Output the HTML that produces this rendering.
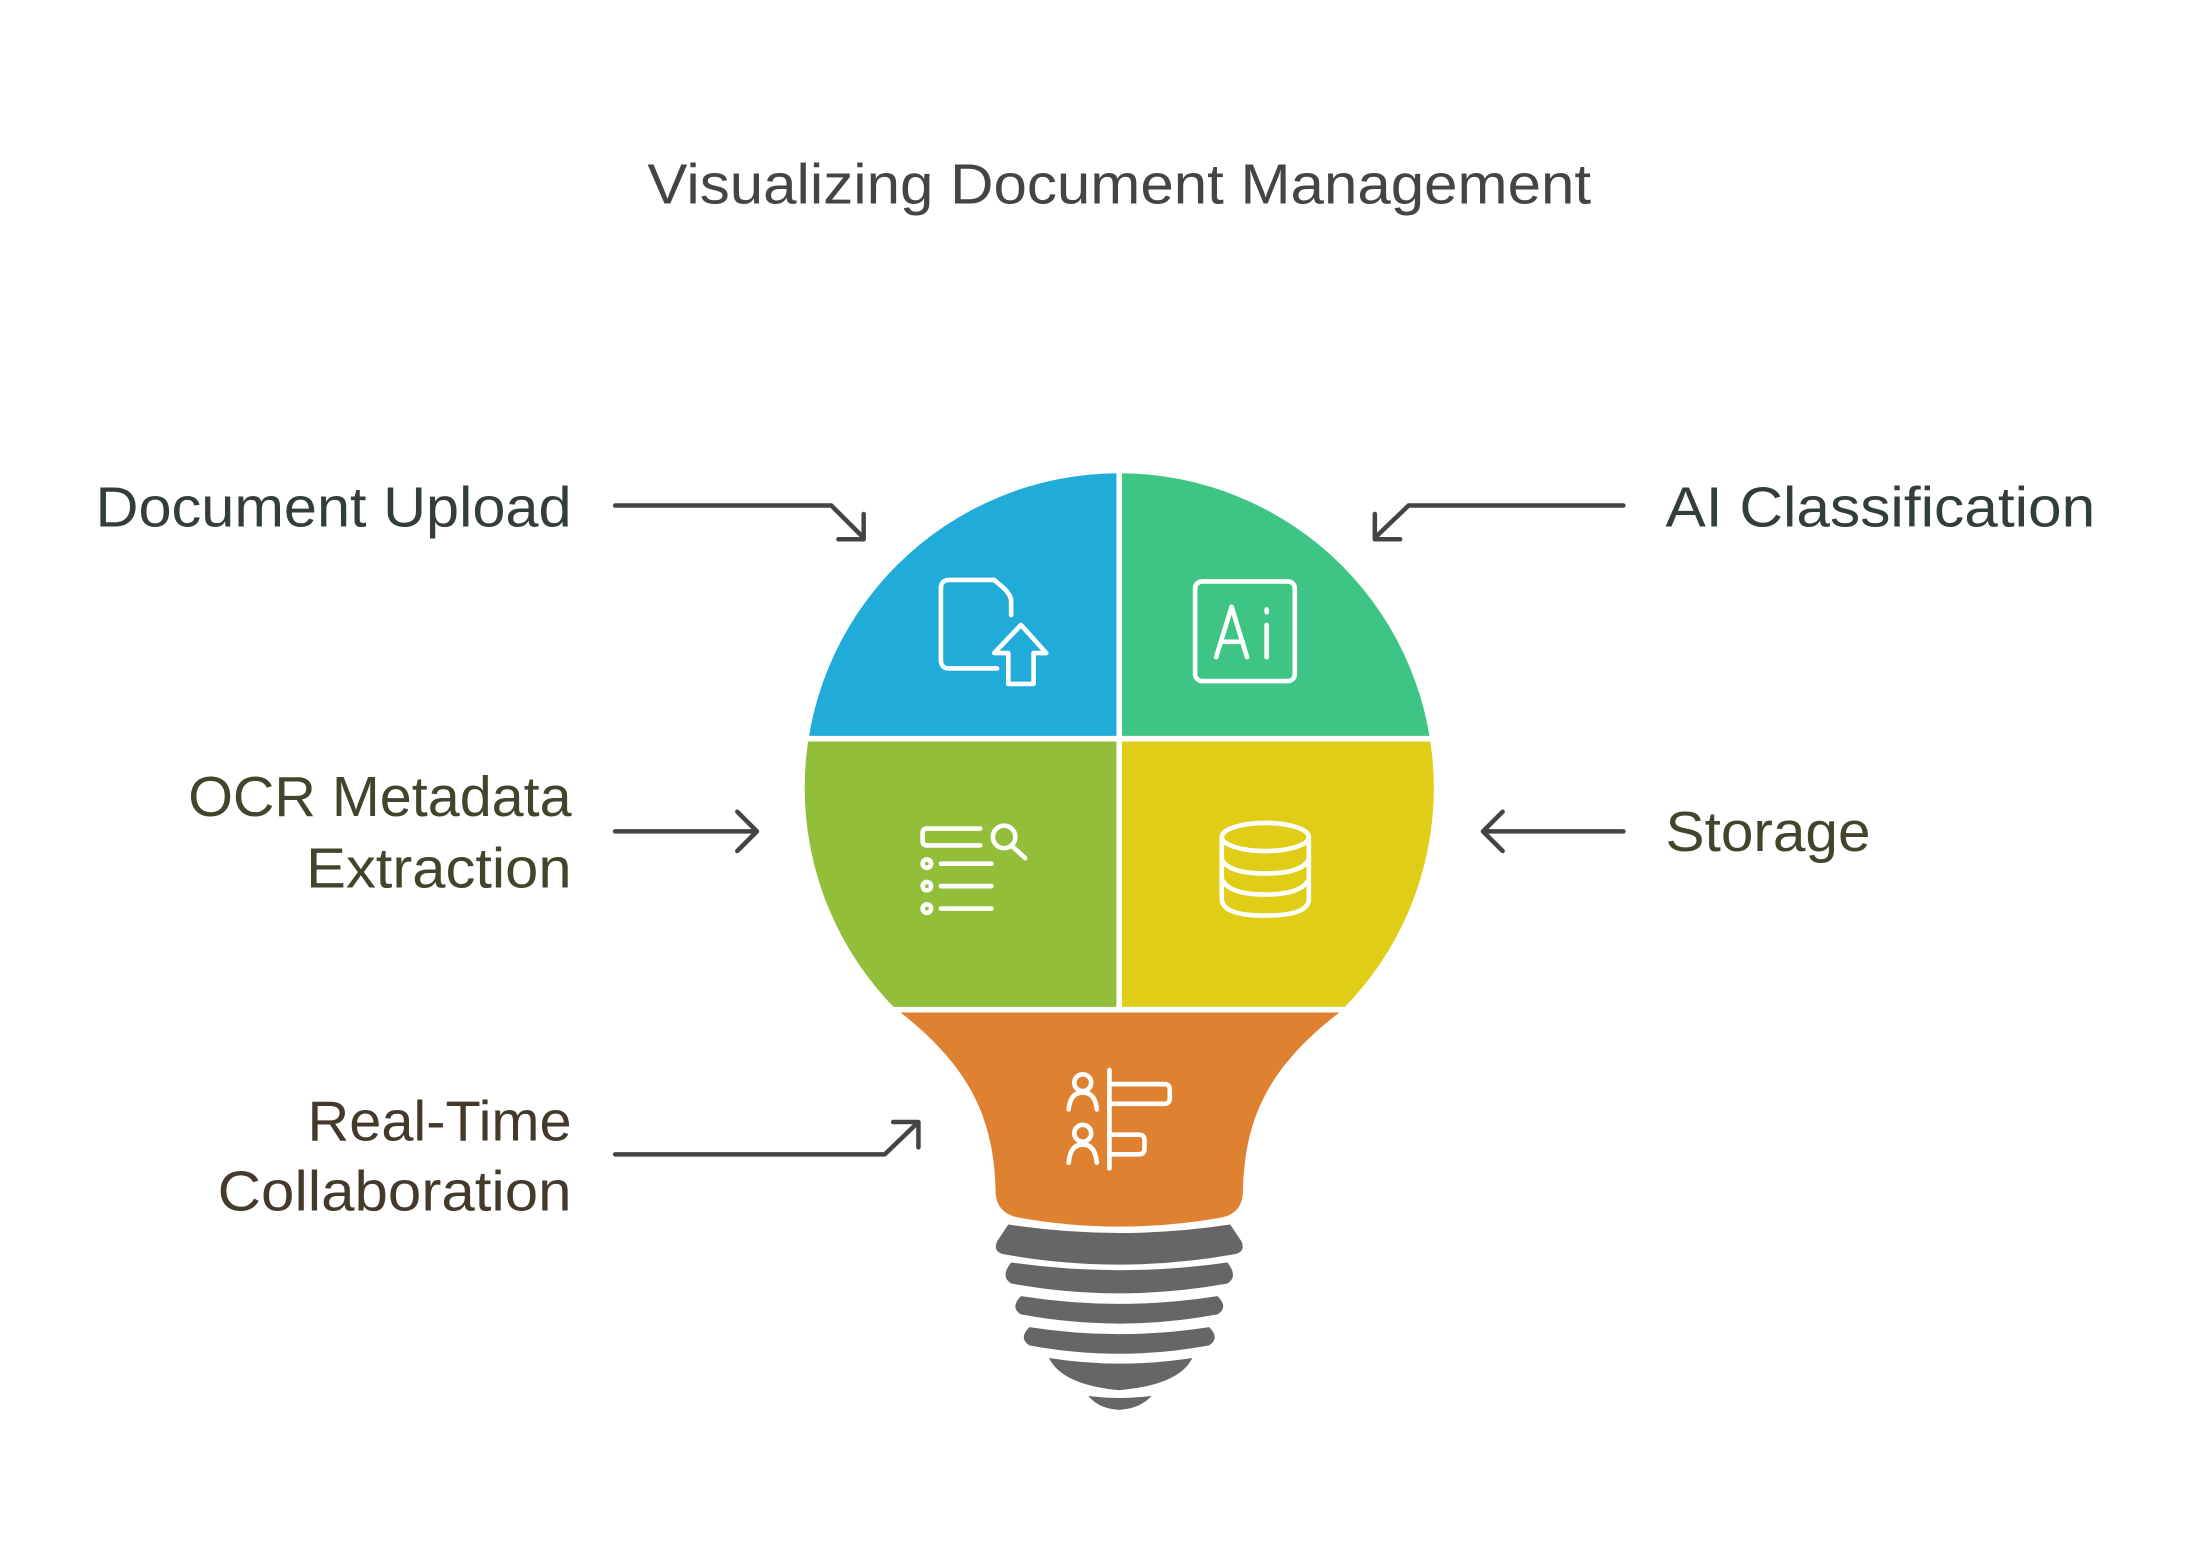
<!DOCTYPE html>
<html><head><meta charset="utf-8"><style>
html,body{margin:0;padding:0;background:#fff;}
svg{display:block;}
text{font-family:"Liberation Sans",sans-serif;}
</style></head><body>
<svg width="2202" height="1563" viewBox="0 0 1568 1113" xmlns="http://www.w3.org/2000/svg">
<rect width="1568" height="1113" fill="#fff"/>
<text x="797" y="145" text-anchor="middle" font-size="40" fill="#444" textLength="672" lengthAdjust="spacingAndGlyphs">Visualizing Document Management</text>

<defs><clipPath id="c"><circle cx="797" cy="561" r="224"/></clipPath></defs>
<g clip-path="url(#c)">
<rect x="560" y="330" width="237" height="196" fill="#20abd8"/>
<rect x="797" y="330" width="240" height="196" fill="#3ec585"/>
<rect x="560" y="526" width="237" height="192" fill="#93be3a"/>
<rect x="797" y="526" width="240" height="192" fill="#dfcd17"/>
</g>
<path d="M640,720 L955,720 C900,762 886,800 885,850 Q884,864 870,867 Q797,880 725,867 Q710,864 709,850 C708,800 694,762 640,720 Z" fill="#de8231"/>
<line x1="797" y1="330" x2="797" y2="720" stroke="#fff" stroke-width="4"/>
<line x1="560" y1="526" x2="1040" y2="526" stroke="#fff" stroke-width="4"/>
<line x1="560" y1="719" x2="1040" y2="719" stroke="#fff" stroke-width="4"/>

<g fill="#666">
<path d="M718,872 Q797,884 876,872 L884,884 Q887,891 880,893 Q797,908 714,893 Q707,891 710,884 Z"/>
<path d="M720,899 Q797,910 874,899 Q882,909 874,914 Q797,928 720,914 Q712,909 720,899 Z"/>
<path d="M727,923 Q797,934 867,923 Q875,931 867,936 Q797,949 727,936 Q719,931 727,923 Z"/>
<path d="M733,945 Q797,955 861,945 Q869,953 861,958 Q797,970 733,958 Q725,953 733,945 Z"/>
<path d="M747,967 Q797,975 849,967 Q840,986 797,990 Q756,986 747,967 Z"/>
<path d="M775,994 Q797,997 820,994 Q812,1003 797,1004 Q782,1003 775,994 Z"/>
</g>

<g fill="none" stroke="#fff" stroke-width="3.3" stroke-linecap="round" stroke-linejoin="round">
<path d="M710,476 L676,476 Q670,476 670,470 L670,419 Q670,413 676,413 L708,413 L715,419 Q720,424 720,428 L720,438"/>
<path d="M727,445 L745,465 L736,465 L736,487 L718,487 L718,465 L708,465 Z"/>
<rect x="851" y="414" width="71" height="71" rx="5"/>
<path d="M866,468 L877,432 L888,468 M870,457 L885,457 M902,445 L902,468 M902,434 L902,436"/>
<path d="M698,590 L660,590 Q657,590 657,593 L657,599 Q657,602 660,602 L698,602"/>
<circle cx="715" cy="596" r="8"/>
<path d="M720,602 L730,611"/>
<circle cx="660" cy="615" r="3"/><circle cx="660" cy="631" r="3"/><circle cx="660" cy="647" r="3"/>
<path d="M670,615 L706,615 M670,631 L706,631 M670,647 L706,647"/>
<ellipse cx="901" cy="596" rx="31" ry="10"/>
<path d="M870,596 L870,640 Q870,652 901,652 Q932,652 932,640 L932,596 M870,612 Q875,622 901,622 Q927,622 932,612 M870,626 Q875,637 901,637 Q927,637 932,626"/>
<circle cx="771" cy="771" r="6"/>
<path d="M761,790 Q762,778 771,778 Q780,778 781,790"/>
<circle cx="771" cy="807" r="6"/>
<path d="M761,828 Q762,815 771,815 Q780,815 781,828"/>
<path d="M790,762 L790,832"/>
<path d="M790,772 L829,772 Q833,772 833,776 L833,782 Q833,786 829,786 L790,786"/>
<path d="M790,808 L811,808 Q815,808 815,812 L815,818 Q815,822 811,822 L790,822"/>
</g>

<g fill="none" stroke="#444" stroke-width="3.2" stroke-linecap="round" stroke-linejoin="round">
<path d="M438,360 L592,360 L615,383 M615,366 L615,384 L597,384"/>
<path d="M1156,360 L1003,360 L979,383 M979,366 L979,384 L997,384"/>
<path d="M438,592 L539,592 M525,578 L539,592 L525,606"/>
<path d="M1156,592 L1056,592 M1070,578 L1056,592 L1070,606"/>
<path d="M438,822 L630,822 L654,799 M636,799 L654,799 L654,817"/>
</g>

<g font-size="40" fill="#333d3d">
<text x="407" y="375" text-anchor="end" textLength="339" lengthAdjust="spacingAndGlyphs">Document Upload</text>
<text x="1186" y="375" textLength="306" lengthAdjust="spacingAndGlyphs">AI Classification</text>
</g>
<g font-size="40" fill="#44442c">
<text x="407" y="581" text-anchor="end" textLength="273" lengthAdjust="spacingAndGlyphs">OCR Metadata</text>
<text x="407" y="632" text-anchor="end" textLength="189" lengthAdjust="spacingAndGlyphs">Extraction</text>
<text x="1186" y="606" textLength="146" lengthAdjust="spacingAndGlyphs">Storage</text>
</g>
<g font-size="40" fill="#443a2c">
<text x="407" y="812" text-anchor="end" textLength="188" lengthAdjust="spacingAndGlyphs">Real-Time</text>
<text x="407" y="862" text-anchor="end" textLength="252" lengthAdjust="spacingAndGlyphs">Collaboration</text>
</g>
</svg>
</body></html>
